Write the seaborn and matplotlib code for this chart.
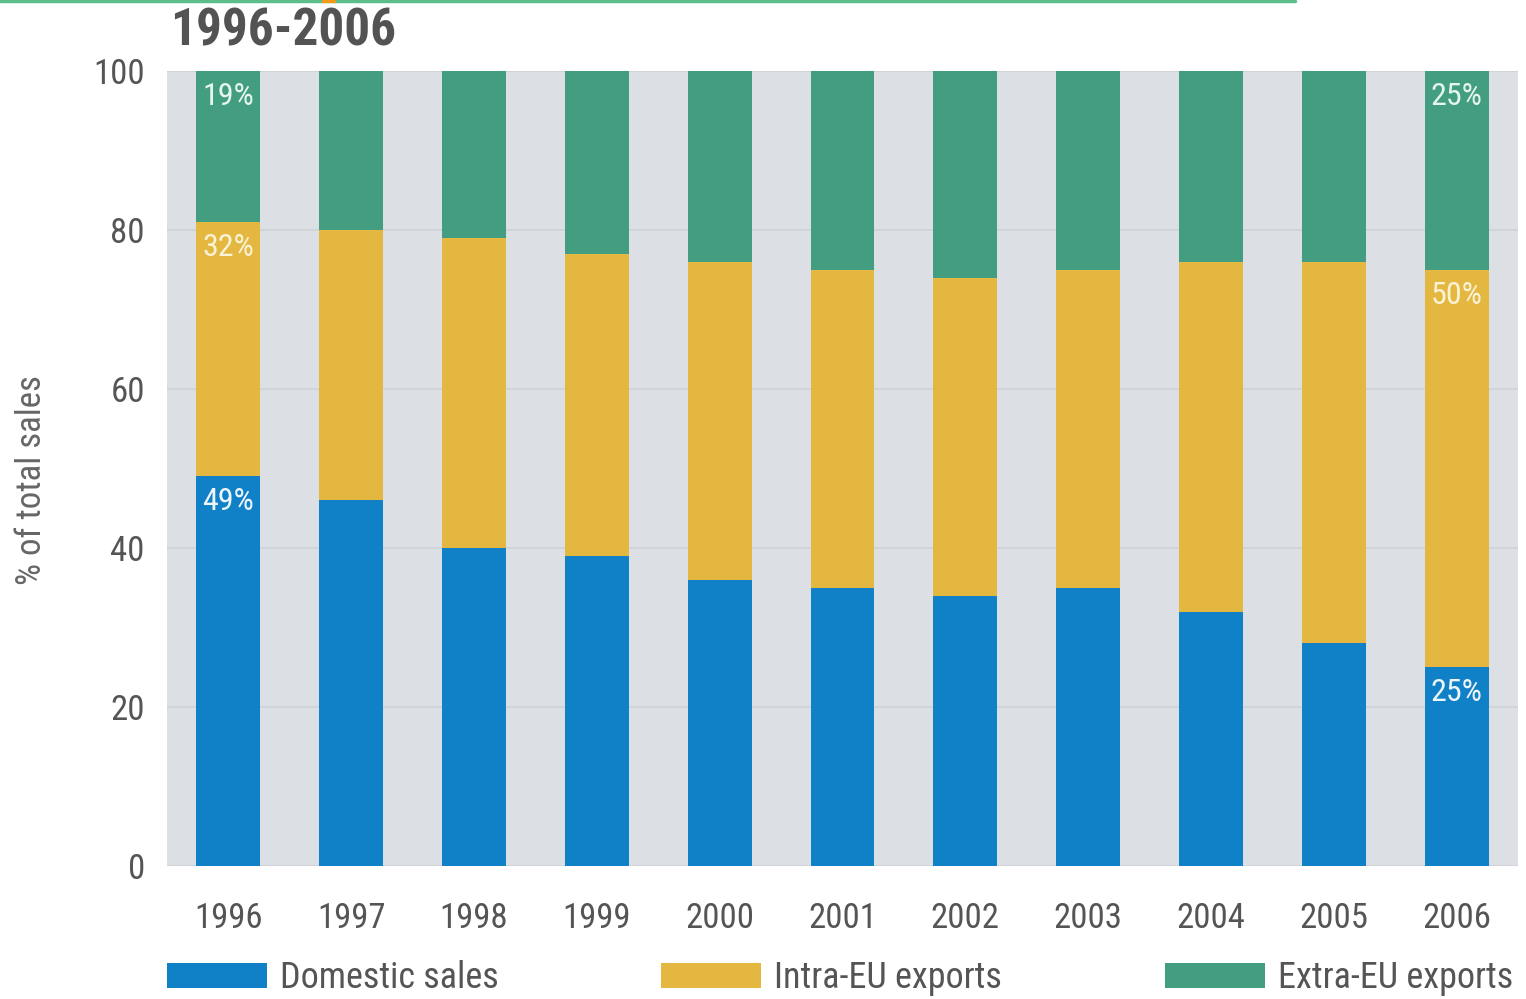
import numpy as np
import pandas as pd
import matplotlib as mpl
import matplotlib.pyplot as plt
import seaborn as sns
from matplotlib.patches import Patch
from matplotlib.lines import Line2D

# Share of total sales by destination
years = ['1996', '1997', '1998', '1999', '2000', '2001', '2002', '2003', '2004', '2005', '2006']
domestic = [49, 46, 40, 39, 36, 35, 34, 35, 32, 28, 25]
intra_eu = [32, 34, 39, 38, 40, 40, 40, 40, 44, 48, 50]
extra_eu = [19, 20, 21, 23, 24, 25, 26, 25, 24, 24, 25]
series_names = ['Domestic sales', 'Intra-EU exports', 'Extra-EU exports']
# Only the first and last bars carry value labels
labelled_years = ['1996', '2006']

colors = ['#1181c7', '#e3b740', '#439e81']
label_colors = ['#eef6fb', '#fbf3d6', '#e4f6ee']

sns.set_style('white')
plt.rcParams['font.family'] = ['Roboto Condensed', 'DejaVu Sans']

df = pd.DataFrame({'year': years, 'domestic': domestic,
                   'intra': intra_eu, 'extra': extra_eu})
df['top_intra'] = df['domestic'] + df['intra']
df['top_extra'] = df['top_intra'] + df['extra']

fig = plt.figure(figsize=(15.26, 9.99), dpi=100)
ax = fig.add_axes([167 / 1526, 1 - 866 / 999, (1518 - 167) / 1526, (866 - 71) / 999])
ax.set_facecolor('#dcdfe3')

# stacked bars: draw cumulative totals back to front
for col, c in zip(['top_extra', 'top_intra', 'domestic'], colors[::-1]):
    sns.barplot(data=df, x='year', y=col, color=c, width=0.52,
                saturation=1, linewidth=0, ax=ax, zorder=3)

ax.set_ylim(0, 100)
ax.set_xlim(-0.5, len(years) - 0.5)
ax.set_yticks(range(0, 101, 20))
ax.yaxis.grid(True, color='#ced1d5', linewidth=1.2, zorder=0)
ax.set_axisbelow(True)
for s in ax.spines.values():
    s.set_visible(False)
ax.tick_params(axis='both', length=0, labelsize=25, colors='#555555')
ax.tick_params(axis='y', pad=16)
ax.tick_params(axis='x', pad=26)
ax.set_xlabel('')
ax.set_ylabel('')

# value labels just under the top of each segment
for i, yr in enumerate(years):
    if yr not in labelled_years:
        continue
    row = df.iloc[i]
    tops = [row['domestic'], row['top_intra'], row['top_extra']]
    vals = [row['domestic'], row['intra'], row['extra']]
    for top, v, lc in zip(tops, vals, label_colors):
        ax.text(i, top - 3.2, f'{int(v)}%', ha='center', va='center',
                fontsize=23, color=lc, zorder=5)

fig.text(170 / 1526, 1 - 31 / 999, '1996-2006', ha='left', va='center',
         fontsize=37, fontweight='bold', color='#535353')
fig.text(32 / 1526, 1 - 480 / 999, '% of total sales', rotation=90,
         ha='center', va='center', fontsize=25, color='#666666')

# thin green rule along the top edge
fig.add_artist(Line2D([0, 1295 / 1526], [0.999, 0.999], color='#5cbf8a',
                      linewidth=2.5, transform=fig.transFigure))
fig.add_artist(Line2D([322 / 1526, 336 / 1526], [0.999, 0.999], color='#f39a1c',
                      linewidth=3, solid_capstyle='butt', transform=fig.transFigure))

handles = [Patch(facecolor=c, edgecolor='none') for c in colors]
fig.legend(handles, series_names, loc='center left',
           bbox_to_anchor=(167 / 1526, 1 - 978 / 999), ncol=3, frameon=False,
           fontsize=26, handlelength=2.77, handleheight=0.69,
           handletextpad=0.36, columnspacing=4.5, borderpad=0, borderaxespad=0,
           labelcolor='#555555')

fig.savefig('out.png', dpi=100)
